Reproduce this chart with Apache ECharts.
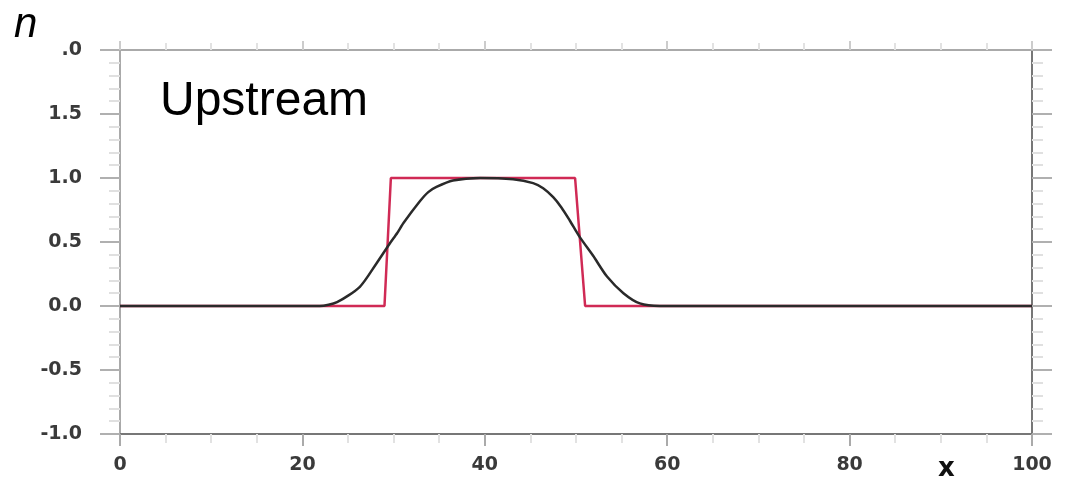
<!DOCTYPE html>
<html>
<head>
<meta charset="utf-8">
<script src="https://cdn.jsdelivr.net/npm/echarts@6/dist/echarts.min.js"></script>
<style>
  html, body { margin: 0; padding: 0; background: #fff; }
  #chart { width: 1068px; height: 484px; }
</style>
</head>
<body>
<div id="chart"></div>
<script>
// initial square pulse (red)
const pulseX = [0, 29.0, 29.7, 49.9, 51.0, 100];
const pulseN = [0, 0, 1, 1, 0, 0];

// advected, smoothed pulse (black)
const curveX = [0, 21.9, 23.8, 26.3, 28.1, 29.6, 30.4, 31.1, 32.9, 33.8, 34.7, 36.5, 39.5, 43.1, 45.3, 46.4, 47.5, 48.4, 49.3, 50.4, 51.9, 53.4, 55.2, 57.0, 59.2, 100];
const curveN = [0, 0.0, 0.03, 0.15, 0.33, 0.49, 0.57, 0.65, 0.82, 0.89, 0.93, 0.98, 1.0, 0.99, 0.96, 0.92, 0.85, 0.77, 0.67, 0.54, 0.39, 0.23, 0.10, 0.02, 0.0, 0];

const xTicks = [0, 20, 40, 60, 80, 100];
const yTicks = [-1.0, -0.5, 0.0, 0.5, 1.0, 1.5, 2.0];

const chart = echarts.init(document.getElementById('chart'));

const labelFont = { fontFamily: 'DejaVu Sans', fontWeight: 'bold', fontSize: 19, color: '#3a3a3a' };

function xAx(pos, showLabel, color) {
  const top = pos === 'top';
  return {
    type: 'value', position: pos, min: xTicks[0], max: xTicks[xTicks.length - 1], interval: 20,
    axisLine: { show: true, onZero: false, lineStyle: { color: color, width: 2 } },
    axisTick: { show: true, length: top ? 9 : 12, lineStyle: { color: top ? '#ccc' : '#aaa', width: 2 } },
    minorTick: { show: true, splitNumber: 4, length: top ? 7 : 9, lineStyle: { color: '#e2e2e2', width: 2 } },
    axisLabel: Object.assign({ show: showLabel, margin: 22 }, labelFont),
    splitLine: { show: false }
  };
}

function yAx(pos, showLabel, color) {
  return {
    type: 'value', position: pos, min: yTicks[0], max: yTicks[yTicks.length - 1], interval: 0.5,
    axisLine: { show: true, onZero: false, lineStyle: { color: color, width: 2 } },
    axisTick: { show: true, length: 20, lineStyle: { color: '#b0b0b0', width: 2 } },
    minorTick: { show: true, splitNumber: 5, length: 11, lineStyle: { color: '#e0e0e0', width: 2 } },
    axisLabel: Object.assign({
      show: showLabel, margin: 38,
      formatter: v => (v === 2 ? '.0' : v.toFixed(1))
    }, labelFont),
    splitLine: { show: false }
  };
}

chart.setOption({
  animation: false,
  backgroundColor: '#fff',
  grid: { left: 120, right: 36, top: 50, bottom: 50 },
  xAxis: [xAx('bottom', true, '#777'), xAx('top', false, '#aaa')],
  yAxis: [yAx('left', true, '#aaa'), yAx('right', false, '#777')],
  graphic: [
    { type: 'text', left: 14, top: 4, style: { text: 'n', font: 'italic 42px Liberation Sans, Arial', fill: '#000' } },
    { type: 'text', left: 160, top: 78, style: { text: 'Upstream', font: '48px Liberation Sans, Arial', fill: '#000' } },
    { type: 'text', left: 938, top: 456, style: { text: 'x', font: 'bold 26px DejaVu Sans', fill: '#111' } }
  ],
  series: [
    {
      type: 'line', xAxisIndex: 0, yAxisIndex: 0, showSymbol: false, z: 2,
      data: pulseX.map((x, i) => [x, pulseN[i]]),
      lineStyle: { color: '#d02a55', width: 2.5 }
    },
    {
      type: 'line', xAxisIndex: 0, yAxisIndex: 0, showSymbol: false, smooth: 0.25, z: 3,
      data: curveX.map((x, i) => [x, curveN[i]]),
      lineStyle: { color: '#2a2a2a', width: 2.5 }
    }
  ]
});
</script>
</body>
</html>
